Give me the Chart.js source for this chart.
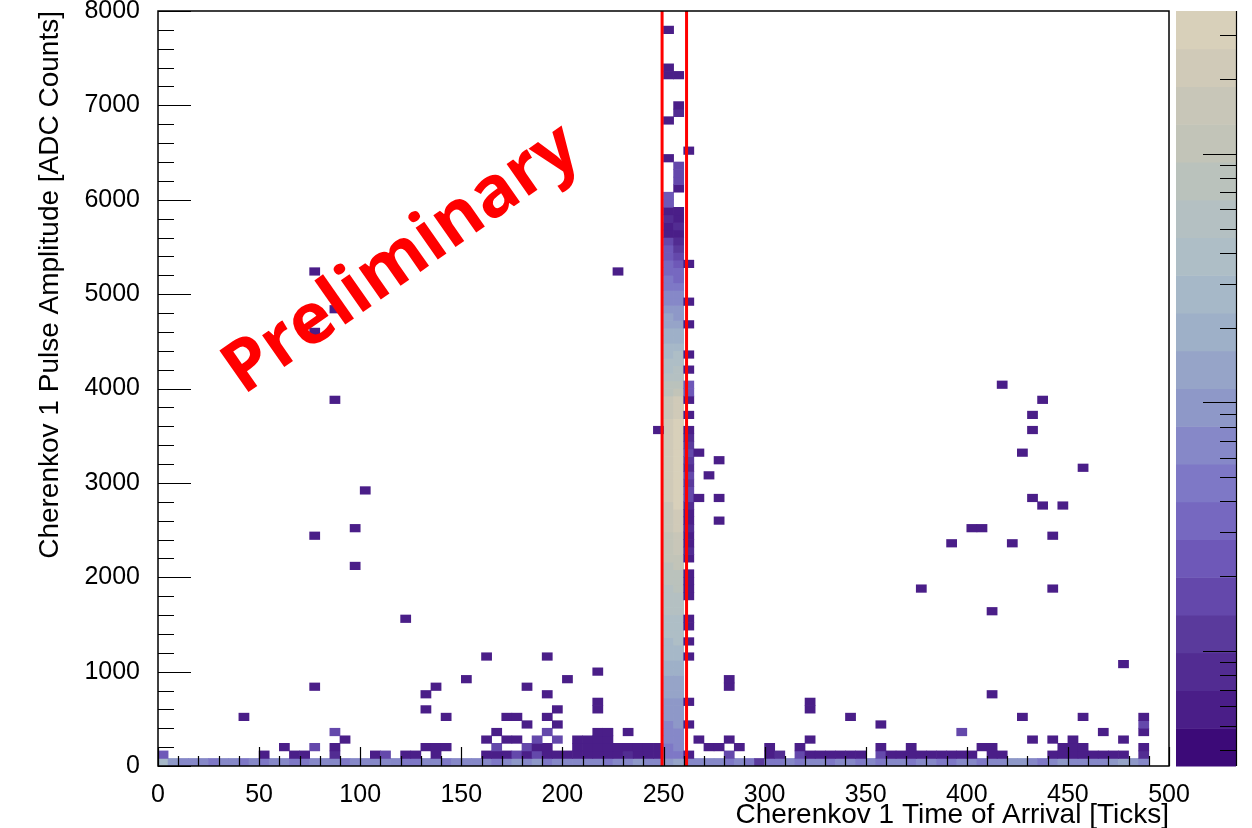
<!DOCTYPE html>
<html>
<head>
<meta charset="utf-8">
<script src="https://cdn.jsdelivr.net/npm/chart.js@4.4.1/dist/chart.umd.min.js"></script>
<style>
html,body{margin:0;padding:0;background:#fff;}
#wrap{width:1252px;height:828px;position:relative;}
</style>
</head>
<body>
<div id="wrap"><canvas id="cv"></canvas></div>
<script>
// 2D histogram: 100 x 100 bins, x = time of arrival [ticks], y = pulse amplitude [ADC]
const binW = 5, binH = 80;
const xTicks = [0, 50, 100, 150, 200, 250, 300, 350, 400, 450, 500];
const yTicks = [0, 1000, 2000, 3000, 4000, 5000, 6000, 7000, 8000];
const cutLow = 249.3, cutHigh = 261.4;   // red timing window
const zMin = 3.45, zMax = 3750;          // colour palette range (log)

// row 0 (0-80 ADC) and row 1 (80-160 ADC), one count per x bin; bins 50-52 live in the column arrays
const row0 = [
 250,90,60,60,70,55,60,75,55,70,
 50,70,60,50,55,70,80,60,55,70,
 60,75,65,80,55,50,60,70,55,60,
 70,80,60,55,70,85,60,90,55,75,
 65,60,70,80,55,70,60,90,75,60,
 0,0,0,60,70,65,55,60,45,12,
 40,50,60,45,70,60,55,65,60,45,
 70,55,60,65,50,60,70,40,55,75,
 60,50,65,70,90,110,60,55,75,90,
 65,60,80,60,100,120,85,70,0,0];
const row1 = [
 20,0,0,0,0,0,0,0,0,0,
 6,0,0,6,6,0,0,8,0,0,
 0,6,15,0,6,6,0,6,0,0,
 0,0,6,6,6,15,6,15,6,6,
 6,6,6,6,6,6,8,6,6,6,
 0,0,0,0,0,0,15,0,0,0,
 6,8,0,15,6,6,6,6,6,6,
 0,15,6,6,6,6,6,6,6,6,
 6,0,6,6,0,0,0,0,6,6,
 6,6,6,6,6,6,0,8,0,0];

// rows 2-4: x bin index and count
const row2Bins = [12,15,17,26,27,28,33,36,37,38,41,42,43,44,45,46,47,48,49,54,55,57,60,63,71,74,81,82,89,90,91,97];
const row2Counts = [6,15,6,6,6,6,15,15,6,6,6,6,6,6,6,6,6,6,6,6,6,6,6,6,6,6,6,6,6,6,6,6];
const row3Bins = [18,32,34,35,37,39,41,42,43,44,53,56,64,86,88,90,95];
const row3Counts = [6,6,6,6,15,15,6,6,6,6,6,6,6,6,6,6,6];
const row4Bins = [17,33,38,43,44,46,79,93,97];
const row4Counts = [15,6,15,6,6,6,15,6,6];

// central columns (x bins 50, 51, 52), one count per y bin 0..99
const colA = [
 100,50,55,62,70,78,85,95,105,115,
 130,150,175,200,230,265,300,340,380,420,
 470,520,580,650,720,800,900,1000,1100,1200,
 1300,1400,1500,1650,1800,1950,2050,2150,2200,2250,
 2300,2250,2200,2100,2000,1900,1800,1650,1500,900,
 700,560,450,380,320,260,220,180,140,115,
 95,80,68,55,45,36,32,25,22,16,
 6,6,9,6,20,22,0,0,0,0,
 6,0,0,0,0,6,0,0,0,0,
 0,6,6,0,0,0,0,6,0,0];
const colB = [
 120,55,60,68,76,84,92,100,110,125,
 140,160,185,215,250,290,330,370,410,460,
 520,580,650,730,820,920,1050,1250,1450,1650,
 1850,2050,2300,2550,2800,3050,3300,3500,3650,3700,
 3600,3450,3300,3100,2900,2700,2450,2200,1900,1000,
 760,600,480,400,330,270,220,180,140,110,
 88,70,58,46,38,30,24,17,12,9,
 6,7,6,6,0,0,6,18,16,14,
 0,0,0,0,0,0,8,6,0,0,
 0,6,0,0,0,0,0,0,0,0];
const colC = [
 70,6,0,0,0,6,0,0,6,0,
 0,0,0,0,6,0,6,0,6,6,
 0,0,6,6,6,6,0,6,8,6,
 6,8,6,6,8,15,15,12,15,8,
 12,15,10,8,6,0,6,0,6,24,
 20,0,6,0,6,0,0,0,6,0,
 0,6,0,0,0,0,6,0,0,0,
 0,0,0,0,0,0,0,0,0,0,
 0,6,0,0,0,0,0,0,0,0,
 0,0,0,0,0,0,0,0,0,0];

// isolated cells above row 4 (x bin, y bin, count)
const scatX = [8,15,15,15,15,17,17,19,19,20,24,
 26,26,27,28,30,32,34,35,36,36,38,38,38,39,39,40,43,43,43,
 45,49,
 53,53,54,55,55,55,56,56,
 64,64,68,71,
 75,78,80,81,82,82,83,84,85,85,86,86,86,87,87,88,88,89,91,91,95,97,97];
const scatY = [6,10,30,57,65,48,60,26,31,36,19,
 7,9,10,6,11,14,6,6,5,10,6,9,14,5,7,11,7,8,12,
 65,44,
 35,41,38,32,35,40,10,11,
 7,8,6,5,
 23,29,31,31,9,20,50,29,6,41,35,44,46,34,48,23,30,34,6,39,13,5,6];
const scatN = [6,6,6,6,6,6,6,6,6,6,6,
 6,6,6,6,6,6,6,6,6,6,6,6,6,6,6,6,6,6,6,
 6,6,
 6,6,6,6,6,6,6,6,
 6,6,6,6,
 6,6,6,6,6,6,6,6,6,6,6,6,6,6,6,6,6,6,6,6,6,15,6];

const palette = ['#3c0a78','#4a1e88','#522c92','#5a3a9c','#6448ab','#6e58b8','#7668c0','#7e78c6','#8688c8','#8e98c8',
 '#96a4c8','#9eb0c8','#a6b8c8','#aebec6','#b4c0c2','#bac2bc','#c2c4b8','#c8c6b8','#d0cab8','#d8d0ba'];

function bandOf(n){
    let t = (Math.log10(n) - Math.log10(zMin)) / (Math.log10(zMax) - Math.log10(zMin));
    return Math.max(0, Math.min(palette.length - 1, Math.floor(t * palette.length)));
}

let cells = [];
function addCell(bin, row, n){
    if (!n) return;
    cells.push({x: bin * binW + binW / 2, y: [row * binH, (row + 1) * binH], n: n});
}
row0.forEach((n, i) => addCell(i, 0, n));
row1.forEach((n, i) => addCell(i, 1, n));
row2Bins.forEach((b, i) => addCell(b, 2, row2Counts[i]));
row3Bins.forEach((b, i) => addCell(b, 3, row3Counts[i]));
row4Bins.forEach((b, i) => addCell(b, 4, row4Counts[i]));
colA.forEach((n, r) => addCell(50, r, n));
colB.forEach((n, r) => addCell(51, r, n));
colC.forEach((n, r) => addCell(52, r, n));
scatX.forEach((b, i) => addCell(b, scatY[i], scatN[i]));
let cellColors = cells.map(c => palette[bandOf(c.n)]);

// ROOT style frame, inward ticks, palette and watermark
const rootDecor = {
    id: 'rootDecor',
    afterDraw(chart){
        const ctx = chart.ctx, a = chart.chartArea;
        const xs = chart.scales.x, ys = chart.scales.y, zs = chart.scales.z;
        ctx.save();
        ctx.strokeStyle = '#000';
        ctx.lineWidth = 1.2;
        ctx.beginPath();
        for (let v = 0; v <= 500; v += 10) {
            let px = Math.round(xs.getPixelForValue(v)) + 0.5;
            let len = v % 50 == 0 ? 19 : 10;
            ctx.moveTo(px, a.bottom); ctx.lineTo(px, a.bottom - len);
        }
        for (let v = 0; v <= 8000; v += 200) {
            let py = Math.round(ys.getPixelForValue(v)) + 0.5;
            let len = v % 1000 == 0 ? 33 : 16;
            ctx.moveTo(a.left, py); ctx.lineTo(a.left + len, py);
        }
        ctx.stroke();
        ctx.lineWidth = 1.5;
        ctx.strokeRect(a.left, a.top, a.right - a.left, a.bottom - a.top);

        // colour palette
        const pl = a.right + 7, pr = a.right + 67;
        for (let k = 0; k < palette.length; k++) {
            let lo = zMin * Math.pow(zMax / zMin, k / palette.length);
            let hi = zMin * Math.pow(zMax / zMin, (k + 1) / palette.length);
            let y0 = zs.getPixelForValue(lo), y1 = zs.getPixelForValue(hi);
            ctx.fillStyle = palette[k];
            ctx.fillRect(pl, y1, pr - pl, y0 - y1 + 0.5);
        }
        ctx.lineWidth = 1.2;
        ctx.beginPath();
        ctx.moveTo(pr + 0.5, zs.top); ctx.lineTo(pr + 0.5, zs.bottom);
        for (let d = 1; d <= 1000; d *= 10) {
            for (let m = 1; m <= 9; m++) {
                let v = m * d;
                if (v < zMin || v > zMax) continue;
                let py = Math.round(zs.getPixelForValue(v)) + 0.5;
                let len = m == 1 ? 33 : 16;
                ctx.moveTo(pr, py); ctx.lineTo(pr - len, py);
            }
        }
        ctx.stroke();

        // watermark
        ctx.translate(402, 260);
        ctx.rotate(-35 * Math.PI / 180);
        ctx.fillStyle = '#ff0000';
        ctx.font = "bold 71px 'Open Sans', 'DejaVu Sans', sans-serif";
        ctx.textAlign = 'center';
        ctx.textBaseline = 'middle';
        ctx.fillText('Preliminary', 0, 0);
        ctx.restore();
    }
};

Chart.defaults.font.family = "'Liberation Sans', Arial, sans-serif";
Chart.defaults.color = '#000';

const ctx = document.getElementById('cv').getContext('2d');
const chart = new Chart(ctx, {
    type: 'bar',
    data: {
        datasets: [
            {type: 'line', data: [{x: cutLow, y: 0}, {x: cutLow, y: 8000}], borderColor: '#ff0000', borderWidth: 3, pointRadius: 0, order: 0},
            {type: 'line', data: [{x: cutHigh, y: 0}, {x: cutHigh, y: 8000}], borderColor: '#ff0000', borderWidth: 3, pointRadius: 0, order: 0},
            {type: 'bar', data: cells, backgroundColor: cellColors, borderWidth: 0, barPercentage: 1, categoryPercentage: 1, order: 1}
        ]
    },
    options: {
        responsive: true,
        maintainAspectRatio: false,
        animation: false,
        layout: {padding: {top: 11, left: 0, right: 0, bottom: 0}},
        plugins: {legend: {display: false}, tooltip: {enabled: false}},
        scales: {
            x: {
                type: 'linear', min: 0, max: 500, offset: false,
                grid: {display: false}, border: {display: false},
                ticks: {stepSize: 50, autoSkip: false, maxRotation: 0, padding: 6, font: {size: 25}, callback: v => String(v)},
                title: {display: true, text: 'Cherenkov 1 Time of Arrival [Ticks]', align: 'end', font: {size: 28}, padding: {top: 0, bottom: -4}},
                afterFit: s => { s.height = 62; s.paddingLeft = 0; s.paddingRight = 0; }
            },
            y: {
                type: 'linear', min: 0, max: 8000,
                grid: {display: false}, border: {display: false},
                ticks: {stepSize: 1000, autoSkip: false, padding: 10, font: {size: 25}, callback: v => String(v)},
                title: {display: true, text: 'Cherenkov 1 Pulse Amplitude [ADC Counts]', align: 'end', font: {size: 28}, padding: {top: 33, bottom: 0}},
                afterFit: s => { s.width = 158; s.paddingTop = 0; s.paddingBottom = 0; }
            },
            z: {
                type: 'logarithmic', position: 'right', min: zMin, max: zMax,
                grid: {display: false}, border: {display: false},
                ticks: {display: false},
                afterFit: s => { s.width = 83; s.paddingTop = 0; s.paddingBottom = 0; }
            }
        }
    },
    plugins: [rootDecor]
});
</script>
</body>
</html>
